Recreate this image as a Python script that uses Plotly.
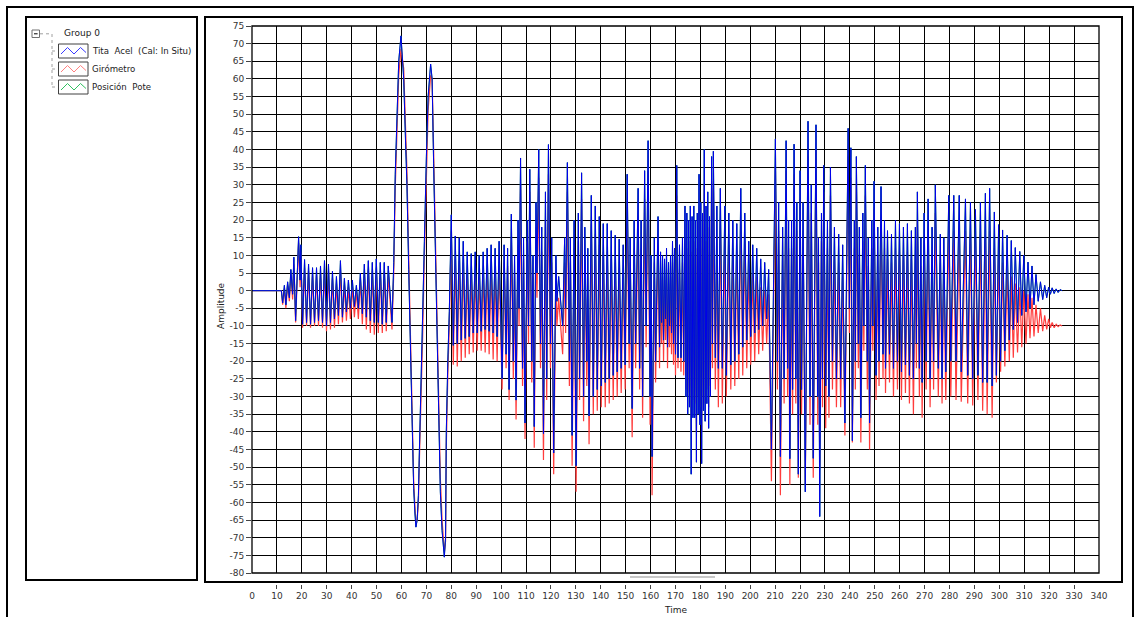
import plotly.graph_objects as go

# ---------------- data ----------------
# Extremes (peaks / troughs) of each trace, segment by segment.
# times in s, values in "Amplitude" units.
A_t = [0, 11.8, 12.3, 13.0, 13.6, 14.3, 15.0, 15.6, 16.3, 16.8, 17.5, 18.2, 18.7, 19.3, 19.6, 20.3]
A_tita = [0, 0, -3.5, 1.5, -4, 2.5, -2, 6, -1, 9.5, -8.5, 8, 15.3, 3, 13, -9.5]
A_giro = [0, 0, -4, 0.5, -5, 1.5, -3, 4.5, -2.5, 7.5, -9, 6, 13.5, 1, 11, -10.5]

B_t = [21.1, 21.9, 22.7, 23.5, 24.3, 25.1, 25.9, 26.7, 27.5, 28.3, 29.1, 29.9, 30.7, 31.5, 32.3,
       33.1, 33.9, 34.7, 35.5, 36.3, 37.1, 37.9, 38.7, 39.5, 40.3, 41.1, 41.9, 42.7, 43.5, 44.3,
       45.1, 45.9, 46.7, 47.5, 48.3, 49.1, 49.9, 50.7, 51.5, 52.3, 53.1, 53.9, 54.7]
B_tita = [8.8, -9, 7.5, -9.5, 6.5, -9, 6.5, -8.5, 7, -9, 8.5, -10, 7.5, -9, 5.5, -8, 4, -7, 8.5,
          -7.5, 3.5, -6, 3, -5, 3, -4.5, 1.5, -5, 5, -6.5, 7.5, -7.5, 8.5, -8.5, 8, -9, 9, -9, 8,
          -9.5, 8, -9, 7]
B_giro = [6.5, -10, 5.5, -10.5, 4.5, -10, 4.5, -10, 5, -10.5, 6, -11.5, 5.5, -11, 3.5, -10.5, 2,
          -9.5, 6, -9, 1.5, -8.5, 1, -8, 1, -7.5, 0, -8, 3, -9.5, 5, -11, 6, -12, 5.5, -12.5, 6.5,
          -12, 5.5, -12, 5.5, -11.5, 4.5]

C_t = [56.2, 56.9, 57.5, 58.2, 58.9, 59.8, 60.9, 61.6, 62.2, 62.9, 63.6, 64.0, 64.5, 64.9, 65.4,
       65.8, 66.3, 66.8, 67.2, 68.0, 68.5, 69.2, 70.0, 70.7, 71.7, 72.3, 72.9, 73.6, 74.3, 74.9,
       75.6, 76.3, 77.2, 77.7, 78.0, 78.6, 79.2, 80.0]
C_tita = [-9, 8, 33, 51, 65, 72.2, 60, 43, 30, 6, -19, -30, -47, -56, -63, -67, -65, -58, -45,
          -24, -9, 14, 38, 55, 64.2, 60, 36, 11, -14, -39, -57, -68, -75.5, -70, -40, -20, -6, 21.5]
C_giro = [-11, 5, 29, 47, 61, 68.5, 63, 47, 34, 10, -15, -27, -43, -54, -61, -65.5, -65, -60, -48,
          -28, -13, 10, 34, 51, 61, 60, 40, 16, -10, -35, -53, -65, -74, -71, -44, -24, -10, 17]

D_t = [80.8, 81.6, 82.4, 83.2, 84.0, 84.8, 85.6, 86.4, 87.2, 88.0, 88.8, 89.6, 90.4, 91.2, 92.0,
       92.8, 93.6, 94.4, 95.2, 96.0, 96.8, 97.6, 98.4, 99.2]
D_tita = [-15.5, 15.5, -15, 15, -14, 14, -13.5, 11, -13, 10.5, -12, 11, -12, 10, -11.5, 11, -11,
          12, -11.5, 13, -12, 12, -13, 14]
D_giro = [-21, 9, -21.5, 8.5, -20, 8, -19, 5, -18, 4.5, -17.5, 5, -17, 4, -17, 5, -17.5, 6, -18,
          6.5, -19.5, 5.5, -20, 7]

E_t = [100.4, 101.2, 102.0, 102.6, 103.2, 104.1, 104.9, 105.4, 106.0, 106.8, 107.2, 107.8, 108.6,
       109.0, 109.6, 110.5, 111.0, 111.5, 112.3]
E_tita = [-25, 13, -18, 12, -28, 21.7, -20, 10, -31, 20, -5, 37.6, -22, 15, -37.5, 20, -10, 34.4, -20]
E_giro = [-28, 8, -22, 7, -31, 15, -25, 5, -36.5, 13, -10, 30, -27, 9, -42, 14, -15, 28, -26]

F_t = [112.8, 113.3, 114.0, 114.4, 115.1, 115.8, 116.3, 117.0, 117.8, 118.3, 119.0, 119.8, 120.3,
       121.1, 122.0, 122.4, 123.1, 124.7, 125.5, 125.9, 126.6, 127.4, 127.8, 128.5, 129.3, 130.1,
       131.0, 131.5, 132.3, 133.1, 133.6, 134.4, 134.8, 135.3]
F_tita = [10, -38.5, 25, 5, 40, -15, 18, -40.5, 28, -25, 41.4, -15, 15, -46, 10, -3, 4, -10, 15,
          -5, 36.3, -20, 15, -41, 20, -49.6, 22, -25, 33.4, -30, 18, -20, 12, -35.5]
F_giro = [4, -44.5, 18, -2, 32, -22, 11, -48, 20, -31, 33, -22, 8, -52, 3, -10, -2, -18, 8, -12,
          28, -27, 8, -49.6, 12, -57, 14, -31, 26, -37, 10, -27, 5, -43.5]

G_t = [136.2, 137.0, 137.8, 138.6, 139.4, 140.2, 141.0, 141.8, 142.6, 143.4, 144.2, 145.0, 145.8,
       146.6, 147.4, 148.2, 149.0, 149.8]
G_tita = [27, -30, 24, -28, 21, -27, 19, -26, 19, -25, 17, -24, 15.7, -23, 14.6, -22, 13, -21]
G_giro = [19, -35, 16, -34, 13, -33, 11, -33, 11, -32, 9, -31, 8, -30, 6.6, -29, 5, -28]

H_t = [150.6, 151.4, 151.8, 152.6, 153.4, 154.0, 155.0, 155.6, 156.2, 156.8, 157.6, 158.2, 159.0,
       159.8, 160.2, 160.6, 161.5, 162.0, 163.0, 163.6, 164.0, 164.4, 164.8, 165.2, 165.6, 166.0,
       166.4, 166.8, 167.2, 167.6, 168.0, 168.4, 168.8, 169.2, 169.6, 170.0]
H_tita = [33, -15, 15, -33.4, 20, -15, 29, -22, 20, -30, 34, -10, 42.5, -30, 10, -47, 15, -20, 21,
          -16, 11, -9, 10, -14, 9, -8, 12, -16, 8, -10, 10, -12, 14, -15, 12, -18]
H_giro = [25, -22, 8, -41.5, 12, -22, 21, -28, 12, -36, 26, -16, 34, -38, 3, -58, 8, -26, 13, -22,
          5, -15, 4, -20, 3, -14, 6, -22, 2, -16, 4, -18, 8, -21, 6, -24]

I_t = [170.5, 171.0, 171.6, 172.2, 172.8, 173.3, 173.8, 174.2, 174.55, 174.9, 175.25, 175.6,
       175.95, 176.3, 176.65, 177.0, 177.35, 177.7, 178.05, 178.4, 178.75, 179.1, 179.45, 179.8,
       180.15, 180.5, 180.85, 181.2, 181.55, 181.9, 182.25, 182.6, 182.95, 183.3, 183.65, 184.0,
       184.5, 184.85, 185.2]
I_tita = [35.5, -19, 13, -19, 15, -20, 24, -30, 22, -35, 20, -33, 24, -52, 21, -36, 24, -36, 20,
          -48.6, 22, -35, 33, -38, 25, -49, 22, -34, 40, -37, 24, -32, 28, -39, 21, -30, 38, -15, 39.5]
I_giro = [27, -22, 6, -23, 8, -24, 15, -28, 12, -30, 10, -29, 14, -40, 11, -31, 14, -32, 10, -40,
          12, -30, 23, -33, 15, -40, 12, -30, 30, -32, 14, -28, 18, -33, 11, -27, 29, -22, 31]

J_t = [186.0, 186.6, 187.2, 188.0, 188.8, 189.8, 190.4, 191.4, 192.2, 193.0, 193.8, 194.6, 195.4,
       196.2, 197.0, 197.8, 198.6, 199.4, 200.2, 201.0, 201.8, 202.6, 203.4, 204.2, 205.0, 205.8,
       206.6, 207.4, 208.5]
J_tita = [-19, 24, -22, 29, -22, 24, -24, 22, -21, 20, -20, 19, -18, 29, -16, 22, -14, 14, -13, 13,
          -12, 12, -11, 9, -10, 8, -8, 6, -45]
J_giro = [-28, 15, -33, 20, -32, 15, -30, 13, -28, 12, -27, 11, -25, 20, -24, 14, -22, 6, -21, 5,
          -20, 4, -18, 1, -17, 0, -15, -1, -54]

K_t = [210.1, 210.9, 211.4, 212.1, 213.0, 213.6, 214.4, 215.0, 215.4, 215.9, 216.6, 217.0, 217.6,
       218.3, 218.7, 219.3, 220.0, 220.6, 221.2, 222.1, 223.2, 224.0, 224.5, 225.3, 226.4, 227.1,
       227.4, 227.9, 228.6, 229.0]
K_tita = [43, -20, 25, -47, 18, -25, 42.5, -22, 20, -47.6, 20, -28, 41.5, -25, 25, -52, 34, -28, 25,
          -57, 48, -30, 30, -47.5, 47, -30, 15, -64, 22, -25]
K_giro = [35, -28, 17, -58, 10, -32, 34, -30, 12, -55, 12, -35, 33, -32, 17, -53, 26, -35, 17, -55,
          38, -38, 22, -53, 40, -38, 8, -50, 14, -33]

L_t = [229.5, 230.3, 231.0, 231.6, 232.2, 233.0, 233.8, 234.6, 235.5, 236.3,
       237.1, 238.0, 239.3, 239.8, 240.4, 241.0, 241.8, 242.2, 242.6, 243.4,
       243.8, 244.4, 245.2, 245.6, 246.2, 247.0, 247.4, 247.9, 248.8, 249.2,
       249.7, 250.5, 251.2, 251.7, 252.5, 253.3, 253.9, 254.3, 255.1, 255.9,
       256.7, 257.5, 258.3, 259.1, 259.9, 260.7, 261.5, 262.3, 263.1, 263.9,
       264.7, 265.5, 266.3, 266.7, 267.1, 267.9, 268.5, 269.0, 269.8, 270.6,
       271.4, 272.2, 273.0, 273.6, 274.3, 275.5, 276.3, 277.0, 277.7, 278.5,
       279.7, 280.5]
L_tita = [35.5, -27, 20, -30, 35, -20, 18, -25, 16, -25,
          13, -37.5, 46, -5, 40.5, -42.5, 20, -20, 38, -15,
          18, -36, 22, -10, 35.5, -20, 15, -37.5, 20, -10,
          31, -24, 18, -20, 29.5, -18, 20, -22, 17, -18,
          16, -22, 20, -20, 19, -23, 18, -21, 19, -24,
          17, -25, 18, -15, 28, -22, 15, -26, 22, -20,
          26, -25, 18, -20, 30, -22, 16, -25, 15, -23,
          27, -20]
L_giro = [28, -39, 12, -36, 27, -28, 10, -33, 8, -33,
          5, -41, 38, -12, 32, -43, 12, -28, 30, -22,
          10, -43, 14, -17, 27, -28, 7, -45, 12, -17,
          23, -31, 10, -27, 21, -25, 12, -29, 9, -26,
          8, -30, 12, -28, 11, -31, 10, -29, 11, -32,
          9, -35, 10, -22, 20, -30, 7, -36, 14, -28,
          18, -33, 10, -28, 22, -30, 8, -32, 7, -31,
          19, -30]

M_t = [281.7, 282.6, 283.9, 284.7, 286.4, 287.3, 288.4, 289.3, 290.4, 291.4,
       292.4, 293.3, 294.4, 295.1, 296.1, 297.1, 298.0, 298.8, 299.7, 300.5,
       301.3, 302.2, 303.1, 304.0, 304.8, 305.6, 306.4, 307.3, 308.2, 309.0,
       309.8, 310.7, 311.5, 312.3, 313.1, 313.9, 314.7, 315.6, 316.5, 317.4,
       318.2, 319.0, 319.8, 320.5, 321.2, 322.0, 322.8, 323.6, 324.4, 325.2]
M_tita = [27, -20, 27, -23, 26, -24, 25, -25, 23, -24,
          25, -26, 27.6, -26, 29, -27, 22.3, -24, 18.7, -20,
          17.2, -17, 15.7, -14, 14.2, -11, 12.2, -9, 11.1, -7,
          10.1, -6, 8.1, -5, 7, -4, 4.6, -3, 2.5, -2.5,
          1.5, -2, 1, -1, 0.8, -0.8, 0.5, -0.5, 0.3, 0]
M_giro = [17, -31, 18, -31.5, 17, -32, 16, -32.5, 15, -31,
          16, -34, 15.7, -35, 17, -36, 12, -26, 10, -23,
          8, -21.5, 6, -20, 4, -19, 2, -17.5, 1, -16,
          0, -15, -1, -13.5, -2, -13, -4, -12, -5, -11.5,
          -7, -11, -8, -10.5, -9, -10.5, -9.5, -10.2, -9.7, -10]

segments_t = [A_t, B_t, C_t, D_t, E_t, F_t, G_t, H_t, I_t, J_t, K_t, L_t, M_t]
segments_tita = [A_tita, B_tita, C_tita, D_tita, E_tita, F_tita, G_tita, H_tita, I_tita, J_tita, K_tita, L_tita, M_tita]
segments_giro = [A_giro, B_giro, C_giro, D_giro, E_giro, F_giro, G_giro, H_giro, I_giro, J_giro, K_giro, L_giro, M_giro]

time = [v for s in segments_t for v in s]
tita = [v for s in segments_tita for v in s]
giro = [v for s in segments_giro for v in s]
# "Posición Pote" lies on top of "Tita Acel" at this scale (only flecks visible)
pote = list(tita)

series_names = ["Tita\u00a0\u00a0Acel\u00a0\u00a0(Cal: In Situ)", "Girómetro", "Posición\u00a0\u00a0Pote"]
y_ticks = list(range(-80, 80, 5))
x_ticks = list(range(0, 350, 10))

# ---------------- layout geometry (pixels) ----------------
W, H = 1139, 617
PL, PR = 252, 1099
PT, PB = 26, 573
AXY = 589

def px(x):
    return (x - PL) / (PR - PL)

def py(y):
    return (AXY - y) / (AXY - PT)

FONT = "DejaVu Sans"
TXT = "#222222"

fig = go.Figure()
fig.add_trace(go.Scatter(x=time, y=giro, mode="lines", line=dict(color="#ff3c3c", width=1.2),
                         name=series_names[1], showlegend=False, hoverinfo="skip"))
fig.add_trace(go.Scatter(x=time, y=pote, mode="lines", line=dict(color="#00a040", width=1),
                         name=series_names[2], showlegend=False, hoverinfo="skip"))
fig.add_trace(go.Scatter(x=time, y=tita, mode="lines", line=dict(color="#0000ea", width=1),
                         name=series_names[0], showlegend=False, hoverinfo="skip"))

shapes = []
def rect(x0, y0, x1, y1, color="black", width=2, fill=None, dash=None):
    d = dict(type="rect", xref="paper", yref="paper", x0=px(x0), x1=px(x1), y0=py(y0), y1=py(y1),
             line=dict(color=color, width=width))
    if dash:
        d["line"]["dash"] = dash
    if fill:
        d["fillcolor"] = fill
    shapes.append(d)

def line(x0, y0, x1, y1, color="black", width=1, dash=None):
    d = dict(type="line", xref="paper", yref="paper", x0=px(x0), x1=px(x1), y0=py(y0), y1=py(y1),
             line=dict(color=color, width=width))
    if dash:
        d["line"]["dash"] = dash
    shapes.append(d)

def path(points, color, width=1):
    p = "M " + " L ".join(f"{px(x)},{py(y)}" for x, y in points)
    shapes.append(dict(type="path", xref="paper", yref="paper", path=p,
                       line=dict(color=color, width=width)))

# outer window border, legend box, chart frame
rect(7, 7, 1133, 640, width=2)
rect(26, 17, 197, 580, width=2)
rect(205, 17, 1122, 582, width=2)
# plot area border
shapes.append(dict(type="rect", xref="x domain", yref="y domain", x0=0, x1=1, y0=0, y1=1,
                   line=dict(color="black", width=1.3)))
# scroll indicator under plot
line(630, 577, 715, 577, color="#c8c8c8", width=2)

# legend tree
rect(32, 30, 39.5, 37.5, color="#707070", width=1, fill="white")
line(34, 33.8, 37.6, 33.8, color="black", width=1)
line(40, 33.8, 52, 33.8, color="#a0a0a0", width=1, dash="dot")
line(52, 34, 52, 87.5, color="#a0a0a0", width=1, dash="dot")
icon_colors = ["#3a3aff", "#ff8080", "#30c060"]
icon_tops = [44, 62, 80]
for c, y0 in zip(icon_colors, icon_tops):
    line(52, y0 + 7, 58, y0 + 7, color="#a0a0a0", width=1, dash="dot")
    rect(58.5, y0, 88, y0 + 14, color="#404040", width=1, fill="white")
    path([(61, y0 + 10), (67.5, y0 + 3.5), (74, y0 + 10), (80.5, y0 + 3.5), (86, y0 + 8.5)], c, 1)

annotations = [
    dict(text="Group 0", x=px(62), y=py(33), xref="paper", yref="paper", xanchor="left",
         yanchor="middle", showarrow=False, font=dict(family=FONT, size=9, color=TXT)),
    dict(text="Amplitude", x=px(221), y=py(306), xref="paper", yref="paper", textangle=-90,
         xanchor="center", yanchor="middle", showarrow=False, font=dict(family=FONT, size=9, color=TXT)),
    dict(text="Time", x=px(675), y=py(610), xref="paper", yref="paper", xanchor="center",
         yanchor="middle", showarrow=False, font=dict(family=FONT, size=9, color=TXT)),
]
for name, y0 in zip(series_names, icon_tops):
    annotations.append(dict(text=name, x=px(89.5), y=py(y0 + 7), xref="paper", yref="paper",
                            xanchor="left", yanchor="middle", showarrow=False,
                            font=dict(family=FONT, size=8.6, color=TXT)))

fig.update_layout(
    width=W, height=H,
    margin=dict(l=PL, r=W - PR, t=PT, b=H - AXY, pad=0, autoexpand=False),
    paper_bgcolor="white", plot_bgcolor="white",
    showlegend=False, hovermode=False,
    font=dict(family=FONT, size=9, color=TXT),
    shapes=shapes, annotations=annotations,
    xaxis=dict(range=[0, 340], tickvals=x_ticks, ticktext=[str(v) for v in x_ticks],
               anchor="free", position=0, ticks="inside", ticklen=4, tickwidth=1, tickcolor="#444",
               showgrid=True, gridcolor="#000000", gridwidth=1.2, zeroline=False, showline=False,
               tickfont=dict(family=FONT, size=9, color="#333"), fixedrange=True),
    yaxis=dict(range=[-80, 75], domain=[(AXY - PB) / (AXY - PT), 1], tickvals=y_ticks,
               ticktext=[str(v) for v in y_ticks], ticks="outside", ticklen=5, tickwidth=1,
               tickcolor="#444", showgrid=True, gridcolor="#000000", gridwidth=1.2,
               zeroline=False, showline=False, tickfont=dict(family=FONT, size=9, color="#333"),
               fixedrange=True),
)

fig.write_html("out.html", config={"displayModeBar": False},
               post_script="document.body.style.margin='0px';document.body.style.overflow='hidden';")
